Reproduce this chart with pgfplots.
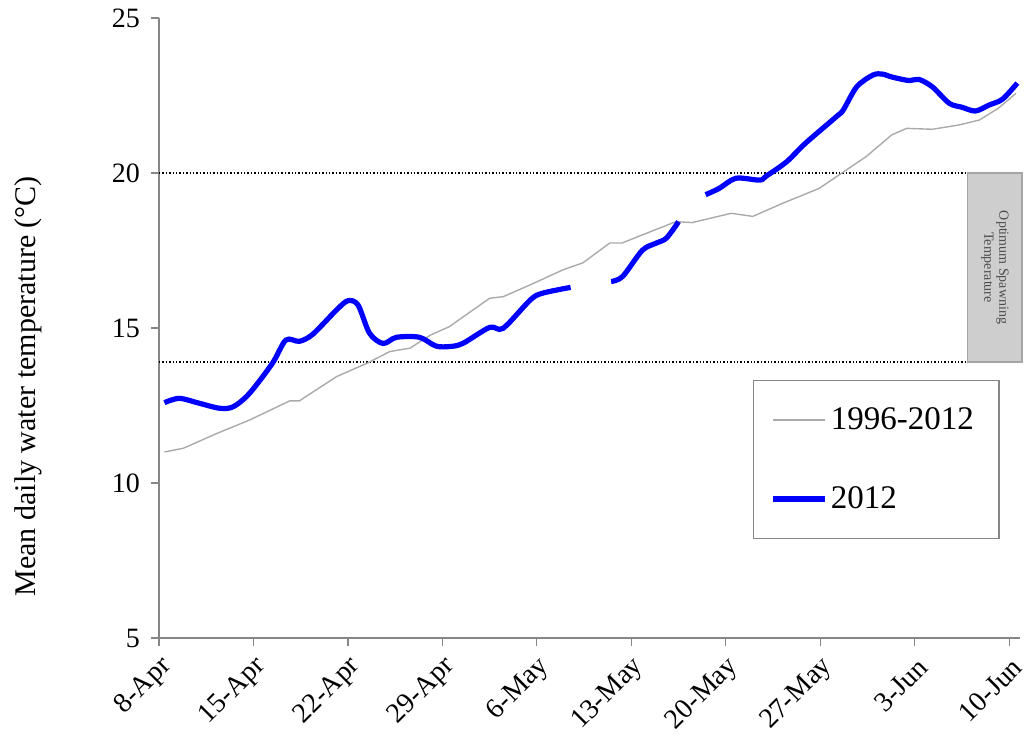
\documentclass[border=0pt]{standalone}
\usepackage{pgfplots}
\pgfplotsset{compat=1.18}
\usepackage{fontspec}
\setmainfont{Liberation Serif}

\definecolor{axisgray}{RGB}{134,134,134}
\definecolor{climgray}{RGB}{170,170,170}
\definecolor{boxgray}{RGB}{206,206,206}
\definecolor{boxedge}{RGB}{165,165,165}
\definecolor{blue2012}{RGB}{0,0,255}

% Long-term mean 1996-2012 (x = days after 8 April)
\pgfplotstableread{
day temp
0.4 11.00
1.8 11.12
4.3 11.60
6.7 12.03
9.7 12.65
10.4 12.65
13.15 13.43
15.4 13.86
17.1 14.24
18.6 14.35
20.1 14.77
21.5 15.04
24.5 15.96
25.5 16.01
27.5 16.39
29.9 16.87
31.4 17.10
33.4 17.74
34.3 17.74
35.8 18.00
38.3 18.43
39.5 18.40
42.4 18.70
44.0 18.60
46.2 19.02
48.9 19.50
50.4 19.94
52.4 20.53
54.3 21.23
55.4 21.44
57.3 21.41
59.3 21.55
60.8 21.71
62.2 22.09
63.5 22.57
}\meanTemp

% Season 2012, three recorded stretches
\pgfplotstableread{
day temp
0.4 12.59
1.5 12.73
3.0 12.57
4.5 12.41
5.5 12.46
6.7 12.89
8.4 13.86
9.4 14.61
10.4 14.57
11.4 14.80
13.15 15.58
14.0 15.88
14.75 15.74
15.6 14.83
16.6 14.50
17.6 14.70
19.3 14.70
20.5 14.42
21.5 14.40
22.5 14.50
24.5 15.02
25.5 14.99
27.5 15.90
28.4 16.12
30.5 16.31
}\yrA

\pgfplotstableread{
day temp
33.5 16.50
34.35 16.66
35.8 17.50
36.8 17.73
37.6 17.90
38.5 18.43
}\yrB

\pgfplotstableread{
day temp
40.5 19.30
41.5 19.50
42.75 19.83
44.5 19.77
45.0 19.90
46.5 20.36
47.9 20.96
50.2 21.82
50.7 22.03
51.7 22.78
52.9 23.16
53.6 23.19
54.35 23.09
55.6 22.98
56.3 23.02
57.3 22.78
58.55 22.25
59.5 22.12
60.5 22.00
61.5 22.19
62.5 22.38
63.6 22.90
}\yrC

\begin{document}
\begin{tikzpicture}
\begin{axis}[
  scale only axis,
  width=430.5pt, height=310pt,
  xmin=0, xmax=63.8, ymin=5, ymax=25,
  axis x line*=bottom, axis y line*=left,
  axis line style={axisgray, line width=0.6pt, -},
  xtick={0,7,...,63},
  xticklabels={8-Apr,15-Apr,22-Apr,29-Apr,6-May,13-May,20-May,27-May,3-Jun,10-Jun},
  ytick={5,10,...,25},
  tick align=outside,
  major tick length=4pt,
  tick style={axisgray, line width=0.6pt},
  /pgf/number format/assume math mode=true,
  ticklabel style={font=\fontsize{14}{16}\selectfont, text=black},
  xticklabel style={inner sep=1pt, xshift=4.9pt, yshift=-7.6pt, rotate=45, anchor=east},
  yticklabel style={xshift=-2pt},
  ylabel={Mean daily water temperature (°C)},
  ylabel style={font=\fontsize{15}{18}\selectfont, at={(rel axis cs:-0.152,0.406)}, anchor=center},
  legend style={at={(rel axis cs:0.690,0.416)}, anchor=north west,
    draw=axisgray, line width=0.6pt,
    font=\fontsize{16.5}{19}\selectfont,
    inner xsep=8.5pt, inner ysep=13.5pt, row sep=27pt, column sep=1.5pt,
    nodes={inner sep=0pt}},
  legend cell align=left,
  legend image code/.code={\draw[#1] (0pt,0pt) -- (26pt,0pt);},
  clip=false,
]
% optimum spawning band
\addplot[black, densely dotted, line width=0.7pt, forget plot] coordinates {(0,20) (59.9,20)};
\addplot[black, densely dotted, line width=0.7pt, forget plot] coordinates {(0,13.9) (59.9,13.9)};
\addplot[fill=boxgray, draw=boxedge, line width=0.6pt, forget plot] coordinates {(59.9,13.9) (63.95,13.9) (63.95,20) (59.9,20)} -- cycle;
\node[rotate=-90, align=center, font=\fontsize{7}{7.5}\selectfont, text=black!70] at (axis cs:61.95,16.95) {Optimum Spawning\\Temperature};

\addplot[climgray, line width=0.7pt] table[x=day, y=temp] {\meanTemp};
\addlegendentry{\makebox[75.5pt][l]{1996-2012}}
\addplot[blue2012, line width=2.6pt, smooth, tension=0.5] table[x=day, y=temp] {\yrA};
\addlegendentry{\makebox[75.5pt][l]{2012}}
\addplot[blue2012, line width=2.6pt, smooth, tension=0.5, forget plot] table[x=day, y=temp] {\yrB};
\addplot[blue2012, line width=2.6pt, smooth, tension=0.5, forget plot] table[x=day, y=temp] {\yrC};

% page extent
\path (rel axis cs:-0.1847,-0.158) rectangle (rel axis cs:1.0081,1.029);
\end{axis}
\end{tikzpicture}
\end{document}
